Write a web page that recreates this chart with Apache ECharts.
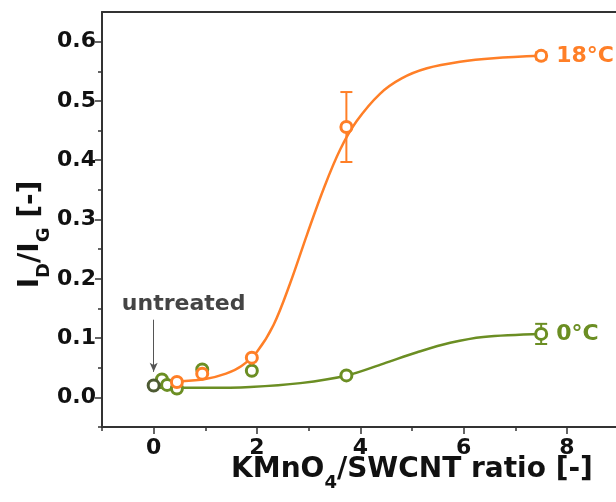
<!DOCTYPE html>
<html>
<head>
<meta charset="utf-8">
<script src="https://cdn.jsdelivr.net/npm/echarts@6/dist/echarts.min.js"></script>
<style>
  html, body { margin: 0; padding: 0; background: #fff; }
  #chart { width: 616px; height: 502px; }
</style>
</head>
<body>
<div id="chart"></div>
<script>
  // measured points
  var pts18 = [[0.45, 0.026], [0.94, 0.040], [1.9, 0.067], [3.73, 0.456], [7.5, 0.576]]
  var pts0 = [[0.16, 0.030], [0.26, 0.021], [0.45, 0.015], [0.94, 0.047], [1.9, 0.045], [3.73, 0.037], [7.5, 0.107]]
  var untreated = [[0, 0.020]]
  // error bars [x, low, high]
  var err18 = [[3.73, 0.397, 0.515], [7.5, 0.570, 0.582]]
  var err0 = [[7.5, 0.090, 0.124]]
  // fitted curves
  var curve18 = [[0, 0.026], [0.5, 0.027], [1.0, 0.031], [1.4, 0.040], [1.7, 0.053], [2.0, 0.077], [2.32, 0.122],
    [2.64, 0.192], [2.97, 0.275], [3.29, 0.352], [3.61, 0.418], [3.93, 0.466], [4.38, 0.512], [4.8, 0.538],
    [5.29, 0.555], [5.93, 0.566], [6.58, 0.572], [7.5, 0.576]]
  var curve0 = [[0, 0.016], [1.0, 0.016], [1.87, 0.0175], [2.84, 0.024], [3.74, 0.037], [4.45, 0.057],
    [5.1, 0.076], [5.74, 0.092], [6.38, 0.102], [7.5, 0.107]]
  var xMajor = [0, 2, 4, 6, 8, 10]
  var xMinor = [-1, 1, 3, 5, 7, 9]
  var yMajor = [0, 0.1, 0.2, 0.3, 0.4, 0.5, 0.6]
  var yMinor = [-0.05, 0.05, 0.15, 0.25, 0.35, 0.45, 0.55]

  var ORANGE = '#ff7f27'
  var GREEN = '#6b8e23'
  var AXIS = '#333'
  var FONT = 'DejaVu Sans'

  var chart = echarts.init(document.getElementById('chart'))

  function errSeries(data, color) {
    return {
      type: 'custom',
      data: data,
      z: 3,
      renderItem: function (params, api) {
        var top = api.coord([api.value(0), api.value(2)])
        var bot = api.coord([api.value(0), api.value(1)])
        var w = 6
        var style = { stroke: color, lineWidth: 2 }
        return {
          type: 'group',
          children: [
            { type: 'line', shape: { x1: top[0], y1: top[1], x2: bot[0], y2: bot[1] }, style: style },
            { type: 'line', shape: { x1: top[0] - w, y1: top[1], x2: top[0] + w, y2: top[1] }, style: style },
            { type: 'line', shape: { x1: bot[0] - w, y1: bot[1], x2: bot[0] + w, y2: bot[1] }, style: style }
          ]
        }
      }
    }
  }

  function pointSeries(data, color, tag) {
    return {
      type: 'scatter',
      symbol: 'circle',
      symbolSize: 11,
      z: 4,
      itemStyle: { color: '#fff', borderColor: color, borderWidth: 3, opacity: 1 },
      data: data.map(function (d, i) {
        if (tag && i === data.length - 1) {
          return {
            value: d,
            label: {
              show: true, position: 'right', distance: 8, formatter: tag,
              color: color, fontFamily: FONT, fontWeight: 'bold', fontSize: 22
            }
          }
        }
        return d
      })
    }
  }

  var rich = {
    a: { fontFamily: FONT, fontWeight: 'bold', fontSize: 28, color: '#111', lineHeight: 30 },
    s: { fontFamily: FONT, fontWeight: 'bold', fontSize: 18, color: '#111', verticalAlign: 'bottom', lineHeight: 20, padding: [0, 0, -7, 0] }
  }
  var tickLabel = { fontFamily: FONT, fontWeight: 'bold', fontSize: 22, color: '#111' }

  chart.setOption({
    animation: false,
    grid: { left: 102, top: 12, bottom: 75, width: 620, outerBoundsMode: 'none', containLabel: false },
    xAxis: [{
      type: 'value', min: -1, max: 11,
      name: '{a|KMnO}{s|4}{a|/SWCNT ratio [-]}',
      nameLocation: 'middle', nameGap: 28, nameMoveOverlap: false,
      nameTextStyle: { rich: rich },
      axisLine: { show: true, onZero: false, lineStyle: { color: AXIS, width: 2 } },
      axisTick: { show: true, inside: false, length: 7, customValues: xMajor, lineStyle: { color: AXIS, width: 1.5 } },
      axisLabel: Object.assign({ customValues: xMajor, margin: 10 }, tickLabel),
      splitLine: { show: false }
    }, {
      type: 'value', min: -1, max: 11, position: 'bottom',
      axisLine: { show: false, onZero: false },
      axisTick: { show: true, length: 4, customValues: xMinor, lineStyle: { color: AXIS, width: 1.5 } },
      axisLabel: { show: false },
      splitLine: { show: false }
    }, {
      type: 'value', min: -1, max: 11, position: 'top',
      axisLine: { show: true, onZero: false, lineStyle: { color: AXIS, width: 2 } },
      axisTick: { show: false },
      axisLabel: { show: false },
      splitLine: { show: false }
    }],
    yAxis: [{
      type: 'value', min: -0.05, max: 0.65,
      name: '{a|I}{s|D}{a|/I}{s|G}{a| [-]}',
      nameLocation: 'middle', nameGap: 56, nameRotate: 90, nameMoveOverlap: false,
      nameTextStyle: { rich: rich, padding: [0, 30, 0, 0] },
      axisLine: { show: true, onZero: false, lineStyle: { color: AXIS, width: 2 } },
      axisTick: { show: true, length: 7, customValues: yMajor, lineStyle: { color: AXIS, width: 1.5 } },
      axisLabel: Object.assign({ customValues: yMajor, margin: 6, formatter: function (v) { return v.toFixed(1) } }, tickLabel),
      splitLine: { show: false }
    }, {
      type: 'value', min: -0.05, max: 0.65, position: 'left',
      axisLine: { show: false, onZero: false },
      axisTick: { show: true, length: 4, customValues: yMinor, lineStyle: { color: AXIS, width: 1.5 } },
      axisLabel: { show: false },
      splitLine: { show: false }
    }],
    series: [
      {
        type: 'line', data: curve18, smooth: 0.35, showSymbol: false, z: 2,
        lineStyle: { color: ORANGE, width: 2.5 }
      },
      {
        type: 'line', data: curve0, smooth: 0.35, showSymbol: false, z: 2,
        lineStyle: { color: GREEN, width: 2.5 }
      },
      errSeries(err18, ORANGE),
      errSeries(err0, GREEN),
      pointSeries(pts0, GREEN, '0°C'),
      pointSeries(pts18, ORANGE, '18°C'),
      {
        type: 'scatter', symbol: 'circle', symbolSize: 11, z: 5,
        itemStyle: { color: '#fff', borderColor: '#4d5a33', borderWidth: 3, opacity: 1 },
        data: untreated,
        markLine: {
          silent: true,
          symbol: ['none', 'arrow'], symbolSize: [6, 9],
          label: { show: false },
          lineStyle: { color: '#555', width: 1, type: 'solid' },
          data: [[{ coord: [0, 0.131] }, { coord: [0, 0.043] }]]
        }
      },
      {
        type: 'scatter', symbolSize: 0, silent: true,
        itemStyle: { opacity: 1 },
        data: [[0.58, 0.157]],
        label: {
          show: true, position: 'inside', formatter: 'untreated',
          color: '#444', fontFamily: FONT, fontWeight: 'bold', fontSize: 22
        }
      }
    ]
  })
</script>
</body>
</html>
